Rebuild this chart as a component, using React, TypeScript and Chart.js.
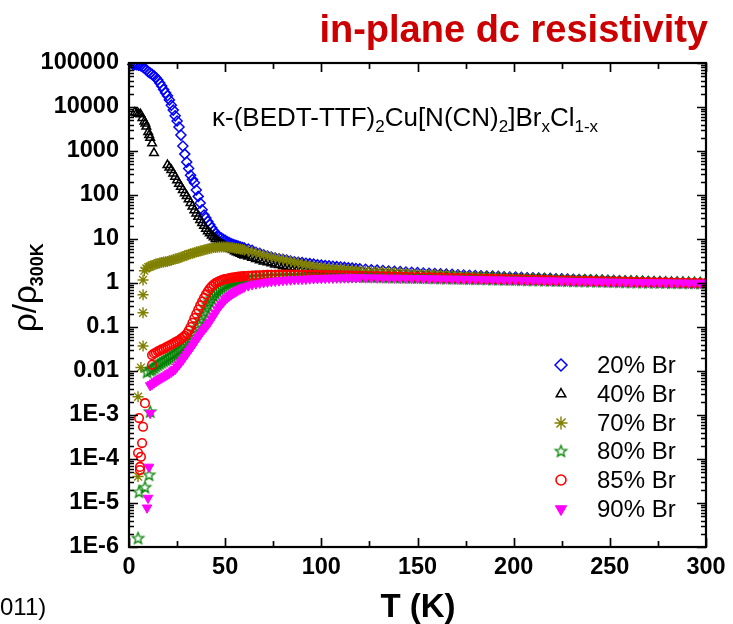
import React, { useEffect, useRef } from "react";
import { Chart, registerables } from "chart.js";
import { drawPoint } from "chart.js/helpers";

Chart.register(...registerables);

// ---------- temperature grids (K) ----------
const T_A = [
  2, 3, 4, 5, 6, 7, 8, 9, 10, 11,
  12, 13, 14, 15, 16, 17, 18, 19, 20, 21,
  22, 23, 24, 25, 26, 27, 28, 29, 30, 31,
  32, 33, 34, 35, 36, 37, 38, 39, 40, 41,
  42, 43, 44, 45, 46, 47, 48, 49, 50, 51,
  52, 53, 54, 55, 56, 57, 58, 59, 60,
];
const T_B = [
  62, 64, 66, 68, 70, 72, 74, 76, 78, 80,
  82, 84, 86, 88, 90, 92, 94, 96, 98, 100,
  102, 104, 106, 108, 110, 112, 114, 116, 118, 120,
];
const T_C = [
  123, 126, 129, 132, 135, 138, 141, 144, 147, 150,
  153, 156, 159, 162, 165, 168, 171, 174, 177, 180,
  183, 186, 189, 192, 195, 198, 201, 204, 207, 210,
  213, 216, 219, 222, 225, 228, 231, 234, 237, 240,
  243, 246, 249, 252, 255, 258, 261, 264, 267, 270,
  273, 276, 279, 282, 285, 288, 291, 294, 297, 300,
];

// ---------- 20% Br ----------
const BR20_A = [
  93000, 92000, 91000, 89000, 87000, 82000, 76000, 70000, 63000, 59000,
  55000, 51000, 46000, 41000, 35000, 30000, 25000, 21000, 18000, 14500,
  11000, 8500, 6300, 4800, 3500, 2300, 1300, 850, 560, 400,
  280, 225, 190, 130, 93, 66, 46, 35, 30, 25,
  21, 18, 15.5, 13.5, 12, 11.2, 10.5, 9.9, 9.3, 8.8,
  8.3, 7.9, 7.6, 7.3, 7.1, 6.8, 6.6, 6.4, 6.2,
];
const BR20_B = [
  5.9, 5.5, 5.0, 4.7, 4.4, 4.1, 3.9, 3.7, 3.55, 3.45,
  3.3, 3.16, 3.05, 2.95, 2.9, 2.82, 2.75, 2.68, 2.6, 2.55,
  2.5, 2.45, 2.4, 2.35, 2.3, 2.26, 2.22, 2.18, 2.14, 2.1,
];
const BR20_C = [
  2.05, 2.0, 1.96, 1.92, 1.88, 1.84, 1.81, 1.78, 1.75, 1.72,
  1.69, 1.66, 1.64, 1.61, 1.59, 1.57, 1.54, 1.52, 1.5, 1.48,
  1.46, 1.44, 1.43, 1.41, 1.39, 1.37, 1.36, 1.34, 1.32, 1.31,
  1.3, 1.28, 1.27, 1.25, 1.24, 1.23, 1.22, 1.2, 1.19, 1.18,
  1.17, 1.16, 1.15, 1.14, 1.12, 1.11, 1.1, 1.09, 1.09, 1.08,
  1.07, 1.06, 1.05, 1.04, 1.03, 1.03, 1.02, 1.01, 1.01, 1.0,
];
const BR20_XT: number[] = [];
const BR20_XV: number[] = [];

// ---------- 40% Br ----------
const BR40_A = [
  null, 7500, 7200, 7000, 6800, 5600, 4700, 3600, 2700, 2000,
  1500, 900, null, null, null, null, null, null, 480, 420,
  370, 310, 260, 215, 180, 155, 130, 110, 95, 80,
  66, 55, 45, 38, 32, 27, 23, 20, 17, 15,
  13.5, 12, 11, 10, 9.1, 8.4, 7.8, 7.3, 6.9, 6.5,
  6.2, 5.9, 5.6, 5.3, 5.0, 4.8, 4.6, 4.4, 4.2,
];
const BR40_B = [
  4.0, 3.75, 3.5, 3.3, 3.1, 2.95, 2.8, 2.65, 2.55, 2.45,
  2.35, 2.28, 2.22, 2.16, 2.1, 2.06, 2.02, 1.98, 1.95, 1.92,
  1.9, 1.87, 1.85, 1.82, 1.8, 1.78, 1.76, 1.74, 1.72, 1.7,
];
const BR40_C = [
  1.68, 1.66, 1.63, 1.61, 1.58, 1.56, 1.54, 1.52, 1.5, 1.49,
  1.47, 1.45, 1.44, 1.42, 1.41, 1.39, 1.38, 1.37, 1.35, 1.34,
  1.33, 1.32, 1.31, 1.29, 1.28, 1.27, 1.26, 1.25, 1.24, 1.23,
  1.22, 1.21, 1.2, 1.19, 1.18, 1.17, 1.16, 1.15, 1.15, 1.14,
  1.13, 1.12, 1.11, 1.11, 1.1, 1.09, 1.08, 1.08, 1.07, 1.06,
  1.05, 1.05, 1.04, 1.03, 1.03, 1.02, 1.02, 1.01, 1.0, 1.0,
];
const BR40_XT = [8.5, 10.5];
const BR40_XV = [4200, 2300];

// ---------- 70% Br ----------
const BR70_A = [
  null, null, null, null, null, null, 1.9, 2.15, 2.3, 2.4,
  2.5, 2.6, 2.7, 2.78, 2.85, 2.92, 3.0, 3.05, 3.1, 3.2,
  3.3, 3.4, 3.5, 3.6, 3.7, 3.85, 4.0, 4.15, 4.3, 4.45,
  4.6, 4.75, 4.9, 5.05, 5.2, 5.35, 5.5, 5.65, 5.8, 5.95,
  6.1, 6.25, 6.4, 6.45, 6.5, 6.55, 6.6, 6.6, 6.6, 6.55,
  6.5, 6.4, 6.3, 6.2, 6.1, 6.0, 5.9, 5.75, 5.6,
];
const BR70_B = [
  5.35, 5.1, 4.8, 4.55, 4.3, 4.1, 3.9, 3.75, 3.6, 3.4,
  3.25, 3.1, 2.95, 2.85, 2.7, 2.6, 2.5, 2.42, 2.35, 2.3,
  2.25, 2.2, 2.15, 2.11, 2.08, 2.05, 2.02, 1.99, 1.96, 1.93,
];
const BR70_C = [
  1.9, 1.86, 1.83, 1.8, 1.77, 1.74, 1.71, 1.69, 1.66, 1.63,
  1.61, 1.59, 1.56, 1.54, 1.52, 1.5, 1.48, 1.46, 1.44, 1.43,
  1.41, 1.39, 1.38, 1.36, 1.35, 1.33, 1.32, 1.31, 1.29, 1.28,
  1.27, 1.25, 1.24, 1.23, 1.22, 1.21, 1.2, 1.19, 1.18, 1.17,
  1.16, 1.15, 1.14, 1.13, 1.12, 1.11, 1.1, 1.09, 1.08, 1.07,
  1.06, 1.06, 1.05, 1.04, 1.03, 1.03, 1.02, 1.01, 1.01, 1.0,
];
const BR70_XT = [7.3, 7.3, 7.3, 7.3, 6.2, 4.7, 4.7];
const BR70_XV = [1.17, 0.54, 0.21, 0.037, 0.012, 0.0026, 0.00004];

// ---------- 80% Br ----------
const BR80_A = [
  null, null, null, null, null, null, null, null, null, 0.0105,
  0.011, 0.012, 0.013, 0.014, 0.015, 0.016, 0.017, 0.018, 0.019, 0.0205,
  0.022, 0.0235, 0.025, 0.027, 0.029, 0.031, 0.034, 0.038, 0.042, 0.048,
  0.056, 0.067, 0.08, 0.098, 0.12, 0.15, 0.18, 0.22, 0.27, 0.32,
  0.38, 0.45, 0.52, 0.59, 0.66, 0.73, 0.8, 0.86, 0.92, 0.97,
  1.02, 1.06, 1.1, 1.14, 1.17, 1.2, 1.23, 1.26, 1.28,
];
const BR80_B = [
  1.31, 1.33, 1.35, 1.37, 1.39, 1.4, 1.41, 1.42, 1.43, 1.44,
  1.45, 1.45, 1.46, 1.46, 1.46, 1.46, 1.46, 1.46, 1.45, 1.45,
  1.45, 1.45, 1.44, 1.44, 1.43, 1.43, 1.42, 1.42, 1.42, 1.41,
];
const BR80_C = [
  1.4, 1.4, 1.39, 1.38, 1.37, 1.37, 1.36, 1.35, 1.34, 1.33,
  1.33, 1.32, 1.31, 1.3, 1.29, 1.29, 1.28, 1.27, 1.26, 1.25,
  1.25, 1.24, 1.23, 1.22, 1.21, 1.21, 1.2, 1.19, 1.18, 1.17,
  1.17, 1.16, 1.15, 1.14, 1.14, 1.13, 1.12, 1.12, 1.11, 1.1,
  1.1, 1.09, 1.08, 1.08, 1.07, 1.06, 1.06, 1.05, 1.05, 1.04,
  1.04, 1.03, 1.03, 1.02, 1.02, 1.01, 1.01, 1.01, 1.0, 1.0,
];
const BR80_XT = [9.4, 11, 10.4, 8.3, 5.2, 4.7];
const BR80_XV = [0.0095, 0.0012, 0.000044, 0.000023, 0.000018, 0.0000016];

// ---------- 85% Br ----------
const BR85_A = [
  null, null, null, null, null, null, null, null, null, null,
  null, 0.025, 0.026, 0.028, 0.029, 0.031, 0.032, 0.034, 0.036, 0.038,
  0.04, 0.042, 0.045, 0.047, 0.05, 0.054, 0.058, 0.063, 0.07, 0.083,
  0.1, 0.125, 0.16, 0.2, 0.25, 0.31, 0.38, 0.46, 0.55, 0.65,
  0.75, 0.84, 0.92, 0.99, 1.05, 1.1, 1.15, 1.19, 1.22, 1.25,
  1.28, 1.31, 1.33, 1.35, 1.37, 1.39, 1.4, 1.42, 1.43,
];
const BR85_B = [
  1.45, 1.47, 1.49, 1.5, 1.51, 1.53, 1.54, 1.54, 1.55, 1.55,
  1.55, 1.55, 1.55, 1.55, 1.54, 1.54, 1.53, 1.53, 1.52, 1.52,
  1.51, 1.5, 1.5, 1.49, 1.49, 1.48, 1.47, 1.47, 1.46, 1.45,
];
const BR85_C = [
  1.44, 1.44, 1.43, 1.42, 1.41, 1.4, 1.39, 1.38, 1.37, 1.36,
  1.35, 1.34, 1.33, 1.32, 1.31, 1.3, 1.29, 1.28, 1.27, 1.26,
  1.25, 1.24, 1.24, 1.23, 1.22, 1.21, 1.2, 1.19, 1.18, 1.18,
  1.17, 1.16, 1.15, 1.14, 1.14, 1.13, 1.12, 1.11, 1.11, 1.1,
  1.09, 1.09, 1.08, 1.07, 1.07, 1.06, 1.06, 1.05, 1.05, 1.04,
  1.04, 1.03, 1.03, 1.02, 1.02, 1.01, 1.01, 1.01, 1.0, 1.0,
];
const BR85_XT = [12, 12, 8.3, 5.2, 7.3, 6.8, 4.7, 6.2, 5.7, 5.7];
const BR85_XV = [0.023, 0.0138, 0.00186, 0.00085, 0.00054, 0.00023, 0.000138, 0.000112, 0.000066, 0.000056];

// ---------- 90% Br ----------
const BR90_A = [
  null, null, null, null, null, null, null, null, null, 0.0047,
  0.005, 0.0054, 0.0058, 0.0062, 0.0066, 0.007, 0.0074, 0.0078, 0.0083, 0.0089,
  0.0095, 0.0102, 0.011, 0.0125, 0.014, 0.016, 0.018, 0.021, 0.024, 0.028,
  0.032, 0.037, 0.043, 0.05, 0.058, 0.067, 0.078, 0.089, 0.1, 0.115,
  0.13, 0.155, 0.18, 0.21, 0.25, 0.29, 0.33, 0.37, 0.42, 0.46,
  0.5, 0.54, 0.58, 0.62, 0.66, 0.7, 0.74, 0.78, 0.82,
];
const BR90_B = [
  0.87, 0.92, 0.96, 1.0, 1.03, 1.06, 1.09, 1.11, 1.13, 1.15,
  1.17, 1.18, 1.2, 1.21, 1.22, 1.23, 1.25, 1.26, 1.27, 1.28,
  1.29, 1.3, 1.3, 1.31, 1.31, 1.32, 1.32, 1.33, 1.33, 1.33,
];
const BR90_C = [
  1.32, 1.32, 1.31, 1.31, 1.3, 1.3, 1.29, 1.29, 1.28, 1.28,
  1.27, 1.26, 1.26, 1.25, 1.25, 1.24, 1.23, 1.23, 1.22, 1.21,
  1.21, 1.2, 1.19, 1.19, 1.18, 1.17, 1.17, 1.16, 1.15, 1.15,
  1.14, 1.13, 1.13, 1.12, 1.11, 1.11, 1.1, 1.09, 1.09, 1.08,
  1.07, 1.07, 1.06, 1.06, 1.05, 1.05, 1.04, 1.04, 1.03, 1.03,
  1.02, 1.02, 1.02, 1.01, 1.01, 1.01, 1.0, 1.0, 1.0, 1.0,
];
const BR90_XT = [11, 10.4, 9.9, 9.4];
const BR90_XV = [0.0011, 0.000066, 0.000013, 0.0000078];

const SERIES_LABELS = ["20% Br", "40% Br", "70% Br", "80% Br", "85% Br", "90% Br"];

const X_TICKS = [0, 50, 100, 150, 200, 250, 300];
const X_MINOR = [25, 75, 125, 175, 225, 275];
const Y_TICKS = [1e-6, 1e-5, 1e-4, 1e-3, 0.01, 0.1, 1, 10, 100, 1000, 10000, 100000];
const Y_TICK_LABELS = ["1E-6", "1E-5", "1E-4", "1E-3", "0.01", "0.1", "1", "10", "100", "1000", "10000", "100000"];

const TITLE = "in-plane dc resistivity";
const FONT = '"Liberation Sans", Arial, sans-serif';

function buildPoints(a: (number | null)[], b: number[], c: number[], xt: number[], xv: number[]) {
  const pts: { x: number; y: number }[] = [];
  const add = (ts: number[], vs: (number | null)[]) =>
    ts.forEach((t, i) => {
      const v = vs[i];
      if (v != null) pts.push({ x: t, y: v });
    });
  add(T_A, a);
  add(T_B, b);
  add(T_C, c);
  add(xt, xv);
  return pts;
}

function makeStar(color: string, outer: number, inner: number, lw: number) {
  const size = Math.ceil(outer * 2 + lw * 2 + 2);
  const c = document.createElement("canvas");
  c.width = size;
  c.height = size;
  const g = c.getContext("2d")!;
  g.beginPath();
  for (let k = 0; k < 10; k++) {
    const r = k % 2 === 0 ? outer : inner;
    const a = -Math.PI / 2 + (k * Math.PI) / 5;
    const px = size / 2 + r * Math.cos(a);
    const py = size / 2 + 0.5 + r * Math.sin(a);
    if (k === 0) g.moveTo(px, py);
    else g.lineTo(px, py);
  }
  g.closePath();
  g.strokeStyle = color;
  g.lineWidth = lw;
  g.stroke();
  return c;
}

const decorPlugin = {
  id: "decor",
  afterDraw(chart: any) {
    const ctx: CanvasRenderingContext2D = chart.ctx;
    const { left, right, top, bottom } = chart.chartArea;
    const xs = chart.scales.x;
    const ys = chart.scales.y;
    ctx.save();
    ctx.strokeStyle = "#000";
    ctx.lineCap = "butt";
    const major = 9;
    const minor = 5;
    ctx.lineWidth = 1.7;
    ctx.beginPath();
    for (const v of X_TICKS) {
      const px = Math.round(xs.getPixelForValue(v)) + 0.5;
      ctx.moveTo(px, bottom); ctx.lineTo(px, bottom - major);
      ctx.moveTo(px, top); ctx.lineTo(px, top + major);
    }
    for (const v of X_MINOR) {
      const px = Math.round(xs.getPixelForValue(v)) + 0.5;
      ctx.moveTo(px, bottom); ctx.lineTo(px, bottom - minor - 1);
      ctx.moveTo(px, top); ctx.lineTo(px, top + minor + 1);
    }
    for (const v of Y_TICKS) {
      const py = Math.round(ys.getPixelForValue(v)) + 0.5;
      ctx.moveTo(left, py); ctx.lineTo(left + major, py);
      ctx.moveTo(right, py); ctx.lineTo(right - major, py);
    }
    ctx.stroke();
    ctx.lineWidth = 1.3;
    ctx.beginPath();
    for (let d = -6; d < 5; d++) {
      for (let m = 2; m <= 9; m++) {
        const py = Math.round(ys.getPixelForValue(m * Math.pow(10, d))) + 0.5;
        ctx.moveTo(left, py); ctx.lineTo(left + minor, py);
        ctx.moveTo(right, py); ctx.lineTo(right - minor, py);
      }
    }
    ctx.stroke();
    ctx.lineWidth = 2.2;
    ctx.strokeRect(left, top, right - left, bottom - top);

    // title
    ctx.fillStyle = "#cc0000";
    ctx.font = `bold 38px ${FONT}`;
    ctx.textAlign = "right";
    ctx.textBaseline = "alphabetic";
    ctx.fillText(TITLE, 708, 42);

    // compound annotation
    ctx.fillStyle = "#000";
    ctx.textAlign = "left";
    const parts: [string, boolean][] = [
      ["\u03BA-(BEDT-TTF)", false], ["2", true], ["Cu[N(CN)", false], ["2", true],
      ["]Br", false], ["x", true], ["Cl", false], ["1-x", true],
    ];
    let ax = 212;
    const ab = 126;
    for (const [t, sub] of parts) {
      ctx.font = sub ? `17px ${FONT}` : `26px ${FONT}`;
      ctx.fillText(t, ax, sub ? ab + 6 : ab);
      ax += ctx.measureText(t).width;
    }

    // y title
    ctx.save();
    ctx.translate(36, 332);
    ctx.rotate(-Math.PI / 2);
    ctx.font = `33px ${FONT}`;
    ctx.fillText("\u03C1/\u03C1", 0, 0);
    const w1 = ctx.measureText("\u03C1/\u03C1").width;
    ctx.font = `bold 18px ${FONT}`;
    ctx.fillText("300K", w1 - 1, 7);
    ctx.restore();

    // x title
    ctx.font = `bold 33px ${FONT}`;
    ctx.textAlign = "center";
    ctx.fillText("T (K)", 418, 617);

    // partial citation
    ctx.font = `24px ${FONT}`;
    ctx.textAlign = "left";
    ctx.fillText("011)", 0, 615);

    // legend
    const rowY = [365, 394, 423, 451, 480, 509];
    chart.data.datasets.forEach((ds: any, i: number) => {
      const y = rowY[i];
      ctx.save();
      ctx.strokeStyle = ds.borderColor;
      ctx.fillStyle = ds.backgroundColor;
      ctx.lineWidth = ds.borderWidth;
      drawPoint(ctx, {
        pointStyle: ds.pointStyle,
        rotation: ds.rotation || 0,
        radius: ds.legendRadius,
        borderWidth: ds.borderWidth,
      } as any, 561, y);
      ctx.restore();
      ctx.fillStyle = "#000";
      ctx.font = `24px ${FONT}`;
      ctx.textAlign = "left";
      ctx.textBaseline = "middle";
      ctx.fillText(SERIES_LABELS[i], 597, y + 1);
    });
    ctx.restore();
  },
};

export default function App() {
  const ref = useRef<HTMLCanvasElement | null>(null);
  useEffect(() => {
    if (!ref.current) return;
    const star = makeStar("#008000", 6, 2.6, 1.3);
    const clear = "rgba(0,0,0,0)";
    const clip = { left: 8, top: 0, right: 0, bottom: 0 };
    const chart = new Chart(ref.current, {
      type: "scatter",
      data: {
        datasets: [
          {
            label: SERIES_LABELS[0],
            data: buildPoints(BR20_A, BR20_B, BR20_C, BR20_XT, BR20_XV),
            pointStyle: "rectRot", radius: 5, borderWidth: 1.5,
            borderColor: "#0000ff", backgroundColor: clear, order: 6, clip,
            legendRadius: 6,
          } as any,
          {
            label: SERIES_LABELS[1],
            data: buildPoints(BR40_A, BR40_B, BR40_C, BR40_XT, BR40_XV),
            pointStyle: "triangle", radius: 5, borderWidth: 1.5,
            borderColor: "#000000", backgroundColor: clear, order: 5, clip,
            legendRadius: 5.5,
          } as any,
          {
            label: SERIES_LABELS[2],
            data: buildPoints(BR70_A, BR70_B, BR70_C, BR70_XT, BR70_XV),
            pointStyle: "star", radius: 5.5, borderWidth: 1.4,
            borderColor: "#808000", backgroundColor: clear, order: 4, clip,
            legendRadius: 6.5,
          } as any,
          {
            label: SERIES_LABELS[3],
            data: buildPoints(BR80_A, BR80_B, BR80_C, BR80_XT, BR80_XV),
            pointStyle: star, radius: 6, borderWidth: 1.3,
            borderColor: "#008000", backgroundColor: clear, order: 3, clip,
            legendRadius: 6,
          } as any,
          {
            label: SERIES_LABELS[4],
            data: buildPoints(BR85_A, BR85_B, BR85_C, BR85_XT, BR85_XV),
            pointStyle: "circle", radius: 4.3, borderWidth: 1.6,
            borderColor: "#ff0000", backgroundColor: clear, order: 2, clip,
            legendRadius: 5,
          } as any,
          {
            label: SERIES_LABELS[5],
            data: buildPoints(BR90_A, BR90_B, BR90_C, BR90_XT, BR90_XV),
            pointStyle: "triangle", rotation: 180, radius: 5.5, borderWidth: 1,
            borderColor: "#ff00ff", backgroundColor: "#ff00ff", order: 1, clip,
            legendRadius: 6.5,
          } as any,
        ],
      },
      options: {
        responsive: false,
        animation: false,
        devicePixelRatio: 1,
        showLine: false,
        layout: { padding: { left: 0, right: 27, top: 63, bottom: 0 } },
        plugins: { legend: { display: false }, title: { display: false }, tooltip: { enabled: false } },
        events: [],
        scales: {
          x: {
            type: "linear",
            min: 0,
            max: 300,
            afterBuildTicks: (s: any) => { s.ticks = X_TICKS.map((v) => ({ value: v })); },
            afterFit: (s: any) => { s.height = 77; },
            grid: { display: false, drawTicks: false },
            border: { display: false },
            ticks: {
              padding: 6,
              color: "#000",
              autoSkip: false,
              maxRotation: 0,
              font: { family: FONT, weight: "bold", size: 23.5 },
              callback: (v: any) => String(v),
            },
          },
          y: {
            type: "logarithmic",
            min: 1e-6,
            max: 1e5,
            afterBuildTicks: (s: any) => { s.ticks = Y_TICKS.map((v) => ({ value: v })); },
            afterFit: (s: any) => { s.width = 129; },
            grid: { display: false, drawTicks: false },
            border: { display: false },
            ticks: {
              padding: 10,
              color: "#000",
              autoSkip: false,
              font: { family: FONT, weight: "bold", size: 23.5 },
              callback: (_v: any, i: number) => Y_TICK_LABELS[i],
            },
          },
        },
      } as any,
      plugins: [decorPlugin],
    });
    return () => chart.destroy();
  }, []);
  return (
    <div style={{ position: "fixed", left: 0, top: 0, width: 733, height: 624, background: "#fff" }}>
      <canvas ref={ref} width={733} height={624} style={{ width: 733, height: 624, display: "block" }} />
    </div>
  );
}
